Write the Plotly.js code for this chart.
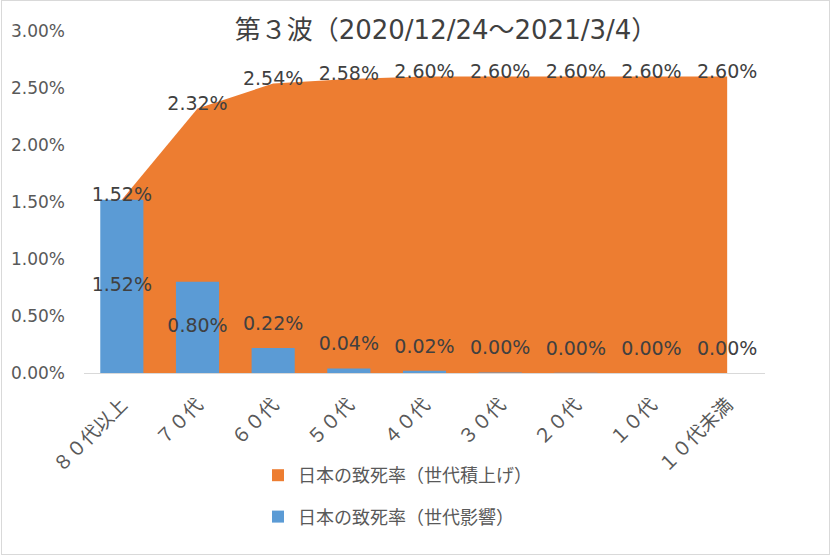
<!DOCTYPE html>
<html>
<head>
<meta charset="utf-8">
<script src="https://cdn.plot.ly/plotly-3.0.1.min.js"></script>
<style>
  html, body { margin: 0; padding: 0; background: #fff; }
  #wrap { position: relative; width: 832px; height: 556px; }
  #chart { position: absolute; left: 0; top: 0; width: 832px; height: 556px; }
  #frame { position: absolute; left: 1px; top: 0px; width: 827px; height: 553px; border: 1.5px solid #d9d9d9; pointer-events: none; }
</style>
</head>
<body>
<div id="wrap"><div id="chart"></div><div id="frame"></div></div>
<script>
// ---- data ----
const categories = ["８０代以上", "７０代", "６０代", "５０代", "４０代", "３０代", "２０代", "１０代", "１０代未満"];
const cumulativeRate = [1.52, 2.32, 2.54, 2.58, 2.60, 2.60, 2.60, 2.60, 2.60];   // 日本の致死率（世代積上げ） %
const generationRate = [1.52, 0.80, 0.22, 0.04, 0.02, 0.004, 0.003, 0.0, 0.0];  // 日本の致死率（世代影響） %
const seriesNames = ["日本の致死率（世代積上げ）", "日本の致死率（世代影響）"];
const titleText = "第３波（2020/12/24～2021/3/4）";
const yTicks = [0, 0.5, 1.0, 1.5, 2.0, 2.5, 3.0];

const ORANGE = "#ED7D31", BLUE = "#5B9BD5";
const FONT = "DejaVu Sans, Noto Sans CJK JP, sans-serif";
const fmt = v => v.toFixed(2) + "%";

const traces = [
  { // area (base axis)
    type: "scatter", x: categories, y: cumulativeRate, yaxis: "y",
    mode: "lines", fill: "tozeroy", fillcolor: ORANGE,
    line: { width: 0, color: ORANGE }, showlegend: false, hoverinfo: "skip"
  },
  { // legend proxy for area
    type: "bar", x: [categories[0]], y: [null], yaxis: "y2",
    marker: { color: ORANGE }, name: seriesNames[0], legendrank: 1,
    legendgroup: "a", showlegend: true, hoverinfo: "skip"
  },
  { // bars
    type: "bar", x: categories, y: generationRate, yaxis: "y2",
    marker: { color: BLUE }, width: 0.57, name: seriesNames[1], legendrank: 2,
    legendgroup: "b", hoverinfo: "x+y"
  },
  { // bar labels
    type: "scatter", mode: "text", x: categories, yaxis: "y2",
    y: generationRate.map(v => v > 0.5 ? v / 2 : v + 0.2),
    text: generationRate.map(fmt), textposition: "middle center",
    textfont: { family: FONT, size: 19, color: "#404040" },
    showlegend: false, hoverinfo: "skip"
  },
  { // area labels
    type: "scatter", mode: "text", x: categories, yaxis: "y2",
    y: cumulativeRate.map(v => v + 0.03),
    text: cumulativeRate.map(fmt), textposition: "middle center",
    textfont: { family: FONT, size: 19, color: "#404040" },
    showlegend: false, hoverinfo: "skip"
  }
];

const layout = {
  width: 832, height: 556,
  margin: { l: 84, r: 67, t: 31, b: 183, pad: 0 },
  paper_bgcolor: "#fff", plot_bgcolor: "#fff",
  font: { family: FONT, color: "#595959" },
  barmode: "overlay",
  title: {
    text: titleText, font: { family: FONT, size: 26, color: "#404040" },
    xref: "paper", x: (446 - 84) / 681, xanchor: "center",
    yref: "container", y: 1 - 30 / 556, yanchor: "middle"
  },
  xaxis: {
    type: "category", categoryorder: "array", categoryarray: categories,
    range: [-0.5, categories.length - 0.5],
    showline: true, linecolor: "#d9d9d9", linewidth: 1,
    showgrid: false, zeroline: false, ticks: "",
    ticklabelstandoff: 12,
    tickangle: -45, tickfont: { family: FONT, size: 19, color: "#595959" },
    fixedrange: true
  },
  yaxis: {
    range: [0, 3.0], tickvals: yTicks, ticktext: yTicks.map(fmt),
    showgrid: false, zeroline: false, showline: false, ticks: "",
    ticklabelstandoff: 18,
    tickfont: { family: FONT, size: 17, color: "#595959" }, fixedrange: true
  },
  yaxis2: {
    overlaying: "y", range: [0, 3.0], visible: false, showgrid: false,
    zeroline: false, fixedrange: true
  },
  legend: {
    orientation: "v", xref: "paper", x: (258 - 84) / 681, xanchor: "left",
    yref: "paper", y: (373 - 457) / 342, yanchor: "top",
    traceorder: "grouped", tracegroupgap: 15,
    font: { family: FONT, size: 18, color: "#595959" },
    bgcolor: "rgba(0,0,0,0)"
  },
  showlegend: true
};

Plotly.newPlot("chart", traces, layout, { displayModeBar: false, staticPlot: true });
</script>
</body>
</html>
